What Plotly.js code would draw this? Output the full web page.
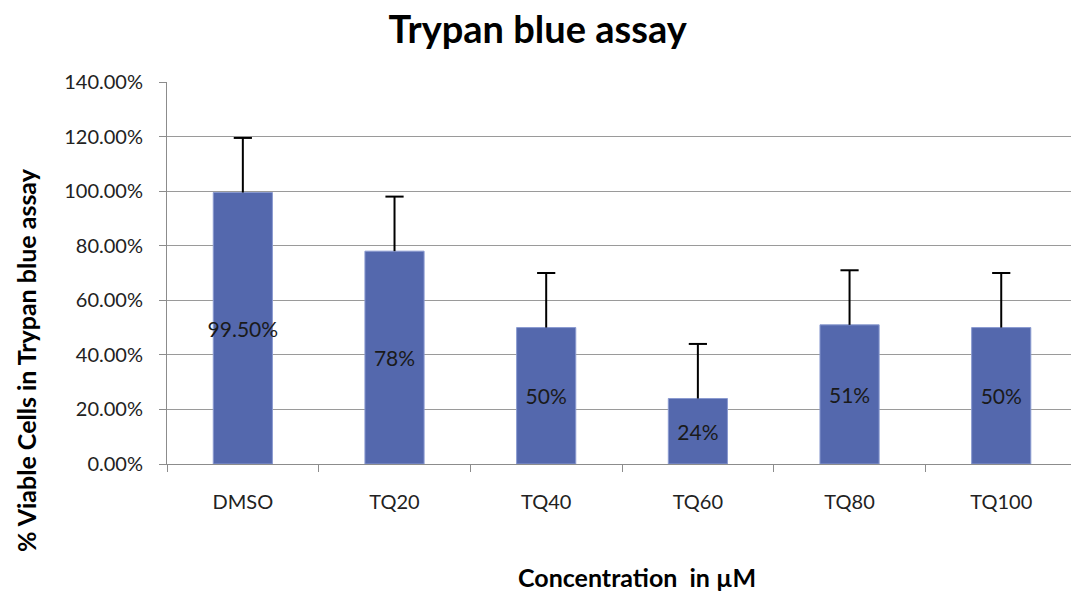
<!DOCTYPE html>
<html>
<head>
<meta charset="utf-8">
<script src="https://cdn.plot.ly/plotly-3.0.1.min.js"></script>
<style>html,body{margin:0;padding:0;background:#fff;overflow:hidden;}</style>
</head>
<body>
<div id="chart" style="width:1071px;height:592px;"></div>
<script>
const categories = ["DMSO", "TQ20", "TQ40", "TQ60", "TQ80", "TQ100"];
const viable = [99.5, 78, 50, 24, 51, 50];
const errorUp = [20, 20, 20, 20, 20, 20];
const labels = ["99.50%", "78%", "50%", "24%", "51%", "50%"];
const yTickVals = [0, 20, 40, 60, 80, 100, 120, 140];
const yTickText = ["0.00%", "20.00%", "40.00%", "60.00%", "80.00%", "100.00%", "120.00%", "140.00%"];

const FONT = "Lato, 'Open Sans', sans-serif";

const barTrace = {
  type: "bar",
  x: categories,
  y: viable,
  width: 0.39,
  marker: { color: "#5468ad", line: { color: "#8a9ad0", width: 1 } },
  text: labels,
  textposition: "inside",
  insidetextanchor: "middle",
  textangle: 0,
  textfont: { family: FONT, size: 21, color: "#1a1a1a" },
  constraintext: "none",
  error_y: { type: "data", symmetric: false, array: errorUp, arrayminus: [0,0,0,0,0,0], color: "#000", thickness: 2, width: 0 },
  hoverinfo: "x+y"
};

// caps at the top of each (upper-only) error bar
const capTrace = {
  type: "scatter",
  mode: "markers",
  x: categories,
  y: viable.map((v, i) => v + errorUp[i]),
  marker: { symbol: "line-ew", size: 13, color: "#000", line: { color: "#000", width: 2 } },
  hoverinfo: "skip",
  cliponaxis: false
};

const layout = {
  width: 1071,
  height: 592,
  margin: { l: 167, r: 0, t: 82, b: 128 },
  paper_bgcolor: "#fff",
  plot_bgcolor: "#fff",
  showlegend: false,
  font: { family: FONT, color: "#222" },
  title: { text: "<b>Trypan blue assay</b>", font: { family: FONT, size: 38, color: "#000" }, x: 0.502, xanchor: "center", y: 0.95, yanchor: "middle" },
  xaxis: {
    type: "category",
    range: [-0.5, 5.46],
    showline: true, linecolor: "#8c8c8c", linewidth: 1,
    ticks: "outside", ticklen: 7, tickcolor: "#8c8c8c", tickson: "boundaries",
    ticklabelstandoff: 20,
    tickfont: { family: FONT, size: 20, color: "#222" },
    showgrid: false, zeroline: false
  },
  yaxis: {
    range: [0, 140],
    tickvals: yTickVals, ticktext: yTickText,
    showline: true, linecolor: "#8c8c8c", linewidth: 1,
    ticks: "outside", ticklen: 7, tickcolor: "#8c8c8c",
    ticklabelstandoff: 12,
    tickfont: { family: FONT, size: 20, color: "#222" },
    showgrid: true, gridcolor: "#9a9a9a", gridwidth: 1, zeroline: false
  },
  annotations: [
    { text: "<b>Concentration  in µM</b>", xref: "paper", yref: "paper", x: (637-167)/904, y: -(577-464)/382, xanchor: "center", yanchor: "middle", showarrow: false, font: { family: FONT, size: 25, color: "#000" } },
    { text: "<b>% Viable Cells in Trypan blue assay</b>", xref: "paper", yref: "paper", x: -(167-26)/904, y: (464-360)/382, xanchor: "center", yanchor: "middle", textangle: -90, showarrow: false, font: { family: FONT, size: 25, color: "#000" } }
  ]
};

Plotly.newPlot("chart", [barTrace, capTrace], layout, { displayModeBar: false, staticPlot: true });
</script>
</body>
</html>
